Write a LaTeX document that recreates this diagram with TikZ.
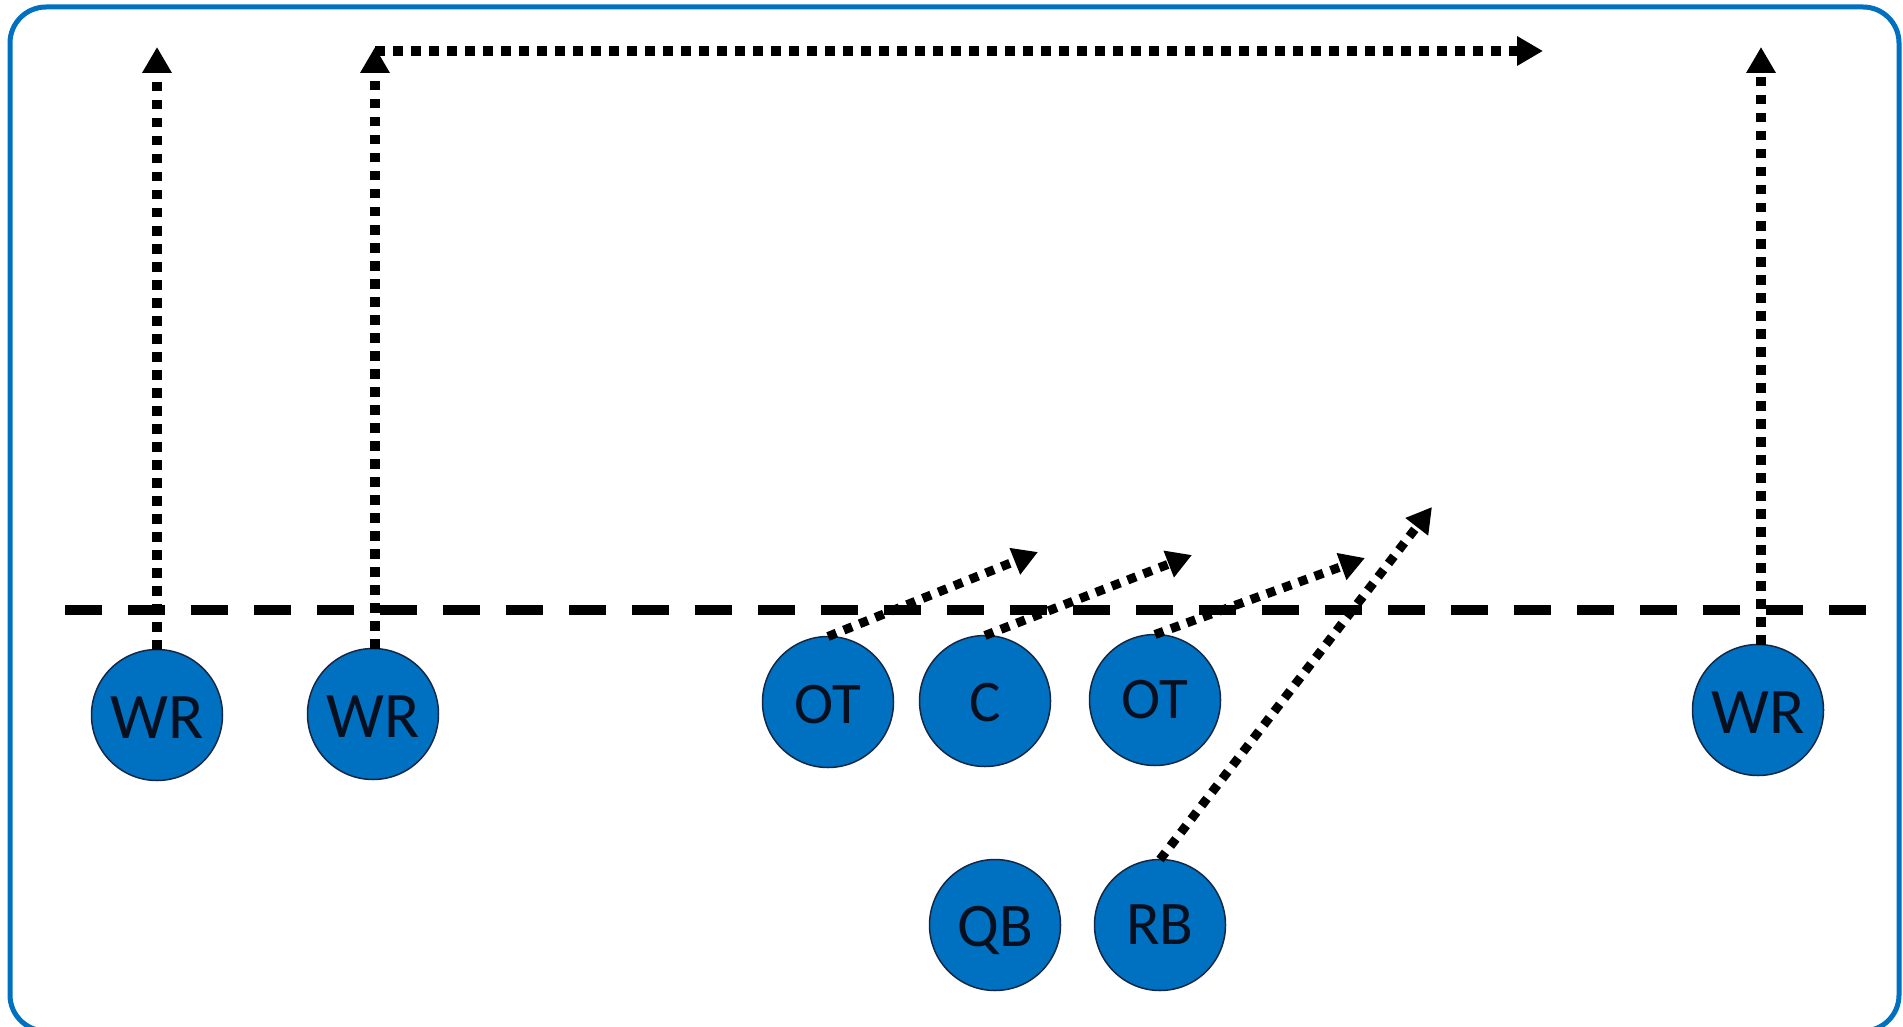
\documentclass[tikz,border=0pt]{standalone}
\usepackage{fontspec}
\setmainfont{Carlito}
\usetikzlibrary{arrows.meta}
\definecolor{offblue}{RGB}{0,112,192}
\definecolor{rim}{RGB}{20,40,70}
\definecolor{ink}{RGB}{8,16,32}
\newcommand\lowerby[2]{\raisebox{-#1}[\height][\depth]{#2}}
\begin{document}
\begin{tikzpicture}[x=1pt,y=-1pt,
  player/.style={circle,draw=rim,line width=1.5pt,fill=offblue,minimum size=131pt,inner sep=0pt,outer sep=0pt,text=ink,font=\fontsize{59}{62}\selectfont},
  wide/.style={player,font=\fontsize{65}{68}\selectfont},
  back/.style={player,font=\fontsize{62}{66}\selectfont},
  route/.style={line width=9.5pt,dash pattern=on 9.5pt off 8.5pt,-{Triangle[width=28pt,length=26pt]}},
  diag/.style={line width=9pt,dash pattern=on 9pt off 8pt,-{Triangle[width=27pt,length=25pt]}},
  scrimmage/.style={line width=10pt,dash pattern=on 37pt off 26pt}]
\useasboundingbox (0,0) rectangle (1903,1027);
\clip (0,0) rectangle (1903,1027);
\fill[white] (0,0) rectangle (1903,1027);
\draw[offblue,line width=5pt,rounded corners=36pt] (10,7) rectangle (1899,1031);

\draw[scrimmage] (65,610) -- (1873,610);

\node[wide] (wr1) at (157,715) {\lowerby{3pt}{WR}};
\node[wide] (wr2) at (373,714) {\lowerby{3pt}{WR}};
\node[wide] (wr3) at (1758,710) {\lowerby{3pt}{WR}};
\node[player] (ot1) at (828,702) {\lowerby{3pt}{OT}};
\node[player] (c) at (985,701) {\lowerby{2pt}{C}};
\node[player] (ot2) at (1155,700) {OT};
\node[back] (qb) at (995,925) {\lowerby{5pt}{QB}};
\node[back] (rb) at (1160,925) {RB};

\coordinate (t1) at (157,47);
\coordinate (t2) at (375,47);
\coordinate (h0) at (375,51);
\coordinate (h1) at (1543,51);
\coordinate (t3) at (1761,47);
\coordinate (d1) at (1038,552);
\coordinate (d2) at (1192,555);
\coordinate (d3) at (1365,558);
\coordinate (d4) at (1432,507);

\draw[route] (wr1.north) -- (t1);
\draw[route] (wr2.north -| t2) -- (t2);
\draw[route] (h0) -- (h1);
\draw[route] (wr3.north -| t3) -- (t3);
\draw[diag] (ot1.north) -- (d1);
\draw[diag] (c.north) -- (d2);
\draw[diag] (ot2.north) -- (d3);
\draw[diag] (rb.north) -- (d4);
\end{tikzpicture}
\end{document}
